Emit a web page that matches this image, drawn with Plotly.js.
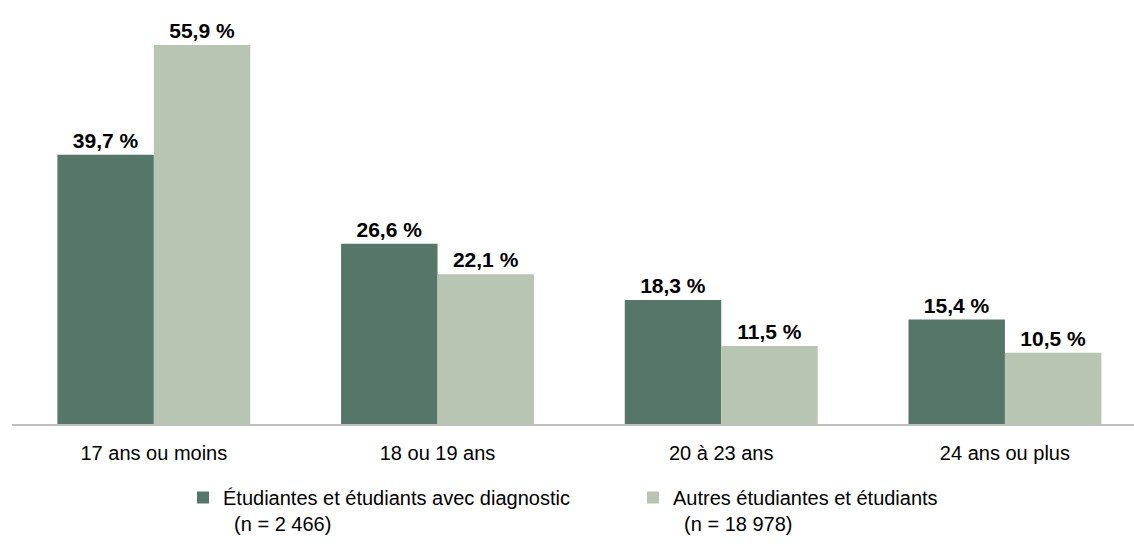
<!DOCTYPE html>
<html><head><meta charset="utf-8">
<script src="https://cdn.plot.ly/plotly-3.0.1.min.js"></script>
<style>body{margin:0;background:#fff}#c{width:1134px;height:544px}</style>
</head><body><div id="c"></div>
<script>
const categories = ["17 ans ou moins", "18 ou 19 ans", "20 à 23 ans", "24 ans ou plus"];
const seriesNames = ["Étudiantes et étudiants avec diagnostic<br>  (n = 2 466)", "Autres étudiantes et étudiants<br>  (n = 18 978)"];
const diagValues = [39.7, 26.6, 18.3, 15.4];
const otherValues = [55.9, 22.1, 11.5, 10.5];
const colors = ["#56766a", "#b8c5b2"];
const fmt = v => v.toFixed(1).replace(".", ",") + " %";
const FONT = "Liberation Sans, Arial, sans-serif";
const mk = (y, name, color) => ({
  type: "bar", x: categories, y: y, name: name,
  marker: {color: color},
  text: y.map(fmt), textposition: "outside", cliponaxis: false,
  textfont: {family: FONT, size: 21, color: "#000", weight: "bold"},
  hoverinfo: "none"
});
const data = [mk(diagValues, seriesNames[0], colors[0]), mk(otherValues, seriesNames[1], colors[1])];
const layout = {
  width: 1134, height: 544,
  margin: {l: 12, r: 0, t: 10, b: 120},
  barmode: "group", bargap: 0.32, bargroupgap: 0,
  font: {family: FONT, size: 20, color: "#000"},
  xaxis: {range: [-0.5, 3.455], showline: true, linecolor: "#bfbfbf", linewidth: 2,
          ticks: "", tickfont: {size: 20}, ticklabelstandoff: 10, fixedrange: true},
  yaxis: {range: [0, 61.06], visible: false, showgrid: false, zeroline: false},
  showlegend: true,
  legend: {orientation: "h", xref: "container", yref: "container",
           x: 183/1134, xanchor: "left", y: 1 - 478/544, yanchor: "top", valign: "top",
           entrywidth: 405, entrywidthmode: "pixels", font: {size: 20}, tracegroupgap: 0,
           itemwidth: 30},
  plot_bgcolor: "#fff", paper_bgcolor: "#fff"
};
Plotly.newPlot("c", data, layout, {displayModeBar: false, staticPlot: true});
</script></body></html>
